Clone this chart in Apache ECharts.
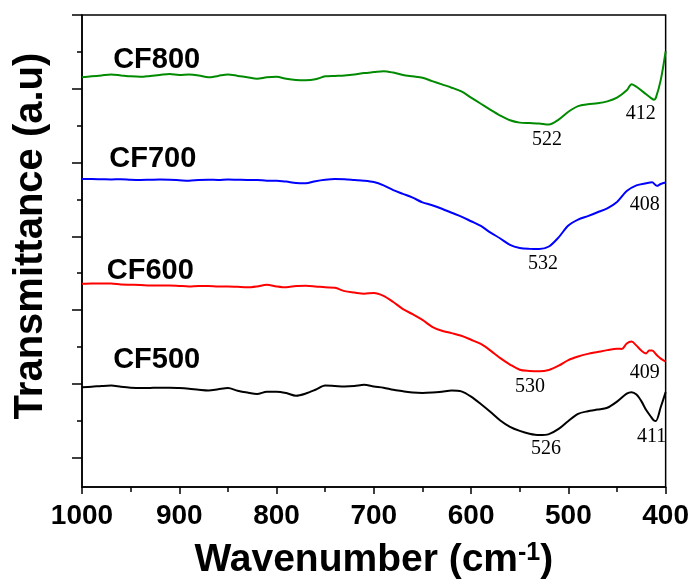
<!DOCTYPE html>
<html>
<head>
<meta charset="utf-8">
<script src="https://cdn.jsdelivr.net/npm/echarts@6/dist/echarts.min.js"></script>
<style>
  html, body { margin: 0; padding: 0; background: #fff; }
  #chart { width: 692px; height: 585px; }
</style>
</head>
<body>
<div id="chart"></div>
<script>
// ---- Data (wavenumber in cm-1, transmittance in arbitrary units, curves offset) ----
const cf800X = [1000,990,980,970,960,950,940,930,920,910,900,890,880,870,860,850,840,830,820,810,800,790,780,770,760,750,740,730,720,710,700,690,680,670,660,650,640,630,620,610,600,590,580,570,560,550,540,530,520,510,500,490,480,470,460,450,440,435,430,420,415,412,410,405,400];
const cf800Y = [86.8,87.0,87.2,87.4,87.2,87.0,86.9,87.1,87.3,87.5,87.3,87.4,87.2,86.8,87.1,87.4,87.1,86.8,86.5,86.8,86.9,86.5,86.25,86.2,86.4,87.0,87.1,87.2,87.4,87.7,87.9,88.1,87.8,87.3,87.0,86.7,86.0,85.3,84.6,83.8,82.5,81.2,79.9,78.7,77.7,77.2,77.1,77.0,76.8,77.85,79.5,80.7,81.1,81.3,81.7,82.5,84.05,85.35,84.8,83.2,82.4,82.05,82.5,86.25,92.3];

const cf700X = [1000,990,980,970,960,950,940,930,920,910,900,890,880,870,860,850,840,830,820,810,800,790,780,770,760,750,740,730,720,710,700,690,680,670,660,650,640,630,620,610,600,590,580,570,560,550,540,530,520,510,500,490,480,470,460,450,440,430,420,414,409,405,400];
const cf700Y = [65.25,65.25,65.2,65.15,65.2,65.1,65.05,65.1,65.15,65.1,65.0,64.9,65.05,65.1,65.05,65.15,65.1,65.05,65.05,64.9,64.9,64.7,64.4,64.35,64.8,65.1,65.25,65.2,65.05,64.9,64.6,63.9,62.9,62.1,61.3,60.3,59.7,58.95,58.1,57.3,56.3,55.3,53.9,52.65,51.3,50.65,50.45,50.4,50.95,52.9,55.4,56.65,57.4,58.2,59.05,60.4,62.7,63.9,64.35,64.55,63.8,64.2,64.5];

const cf600X = [1000,990,980,970,960,950,940,930,920,910,900,890,880,870,860,850,840,830,820,810,800,790,780,770,760,750,740,730,720,710,700,690,680,670,660,650,640,630,620,610,600,590,580,570,560,550,540,530,520,510,500,490,480,470,460,450,445,440,435,430,425,420,417,414,409,405,400];
const cf600Y = [43.05,43.1,43.1,43.1,42.9,42.85,42.8,42.7,42.7,42.7,42.6,42.5,42.6,42.6,42.5,42.5,42.4,42.3,42.5,42.85,42.5,42.3,42.6,42.65,42.5,42.3,42.2,41.5,41.2,40.95,41.1,40.5,39.2,37.7,36.6,35.4,33.95,33.1,32.6,32.05,31.2,30.3,28.9,27.3,25.95,24.85,24.6,24.5,24.8,25.7,26.9,27.65,28.2,28.6,29.0,29.3,29.25,30.4,30.8,29.95,28.9,28.3,28.9,28.9,27.9,27.2,26.55];

const cf500X = [1000,990,980,970,960,950,940,930,920,910,900,890,880,870,860,850,840,830,820,810,800,790,780,770,760,750,740,730,720,710,700,690,680,670,660,650,640,630,620,610,600,590,580,570,560,550,540,530,520,510,500,490,480,470,460,450,440,435,430,425,420,415,412,410,405,400];
const cf500Y = [21.15,21.25,21.4,21.5,21.25,21.05,20.95,21.0,21.05,21.05,20.95,20.8,20.6,20.45,20.7,20.95,20.4,20.0,19.7,20.2,20.2,19.9,19.35,19.8,20.6,21.5,21.4,21.3,21.4,21.65,21.3,21.05,20.6,20.3,20.0,19.9,20.0,20.2,20.45,20.25,19.15,17.6,15.9,14.1,12.75,11.9,11.3,11.0,11.2,12.3,14.0,15.5,16.05,16.4,16.8,18.1,19.8,20.1,19.6,18.2,16.3,14.85,14.1,14.0,16.95,20.1];

const seriesNames = ['CF800', 'CF700', 'CF600', 'CF500'];
const seriesColors = ['#008a00', '#0000ff', '#ff0000', '#000000'];
// name label anchors [wavenumber, transmittance]
const nameAnchors = [[968, 90.45], [972, 69.45], [974.5, 45.7], [968, 27.0]];
// peak annotations: [label, wavenumber, transmittance]
const peakLabels = [
  [['522', 522, 73.65], ['412', 425.6, 79.1]],
  [['532', 526.2, 47.2], ['408', 421.5, 59.8]],
  [['530', 539.5, 21.15], ['409', 421.5, 24.1]],
  [['526', 523.1, 8.1], ['411', 414.4, 10.65]]
];

const xTickInterval = 100;
const yMajorTicks = [6.25, 21.875, 37.5, 53.125, 68.75, 84.375, 100];
const yMinorTicks = [14.0625, 29.6875, 45.3125, 60.9375, 76.5625, 92.1875];

const xs = [cf800X, cf700X, cf600X, cf500X];
const ys = [cf800Y, cf700Y, cf600Y, cf500Y];

const SANS = '"Liberation Sans", Arial, sans-serif';
const SERIF = '"Liberation Serif", "Times New Roman", serif';

const series = seriesNames.map((name, i) => ({
  name: name,
  type: 'line',
  data: xs[i].map((x, k) => [x, ys[i][k]]),
  showSymbol: false,
  smooth: 0.3,
  lineStyle: { color: seriesColors[i], width: 2 },
  itemStyle: { color: seriesColors[i] },
  z: 3,
  markPoint: {
    symbol: 'circle',
    symbolSize: 1,
    silent: true,
    itemStyle: { color: 'rgba(0,0,0,0)' },
    data: [
      {
        coord: nameAnchors[i],
        name: name,
        label: {
          show: true, position: 'inside', formatter: name, align: 'left',
          fontFamily: SANS, fontWeight: 'bold', fontSize: 29, color: '#000'
        }
      }
    ].concat(peakLabels[i].map(p => ({
      coord: [p[1], p[2]],
      name: p[0],
      label: {
        show: true, position: 'inside', formatter: p[0], align: 'center',
        fontFamily: SERIF, fontSize: 20, color: '#000'
      }
    })))
  }
}));

const chart = echarts.init(document.getElementById('chart'), null, { renderer: 'canvas' });
chart.setOption({
  animation: false,
  backgroundColor: '#fff',
  grid: {
    left: 82, right: 25, top: 15, bottom: 94,
    show: true, borderColor: '#000', borderWidth: 1.5, backgroundColor: 'transparent'
  },
  xAxis: {
    type: 'value',
    inverse: true,
    min: 400, max: 1000, interval: xTickInterval,
    axisLine: { show: true, onZero: false, lineStyle: { color: '#000', width: 1.5 } },
    axisTick: { show: true, inside: false, length: 7, lineStyle: { color: '#000', width: 1.5 } },
    minorTick: { show: true, splitNumber: 2, length: 5, lineStyle: { color: '#000', width: 1.5 } },
    splitLine: { show: false },
    axisLabel: {
      show: true, margin: 15, color: '#000', fontFamily: SANS, fontWeight: 'bold', fontSize: 28,
      showMinLabel: true, showMaxLabel: true, hideOverlap: false,
      formatter: v => String(v)
    },
    name: 'Wavenumber (cm{sup|-1})',
    nameLocation: 'middle',
    nameGap: 54,
    nameTextStyle: {
      color: '#000', fontFamily: SANS, fontWeight: 'bold', fontSize: 39,
      rich: {
        sup: { fontFamily: SANS, fontWeight: 'bold', fontSize: 25, verticalAlign: 'top', lineHeight: 16, color: '#000' }
      }
    }
  },
  yAxis: [
    {
      type: 'value', min: 0, max: 100, position: 'left',
      axisLine: { show: true, onZero: false, lineStyle: { color: '#000', width: 1.5 } },
      axisTick: { show: true, inside: false, length: 10, customValues: yMajorTicks, lineStyle: { color: '#000', width: 1.5 } },
      axisLabel: { show: false },
      splitLine: { show: false },
      name: 'Transmittance (a.u)',
      nameLocation: 'middle',
      nameRotate: 90,
      nameGap: 31,
      nameTextStyle: {
        color: '#000', fontFamily: SANS, fontWeight: 'bold', fontSize: 40,
        padding: [0, 0, 0, 30]
      }
    },
    {
      type: 'value', min: 0, max: 100, position: 'left', offset: 0,
      axisLine: { show: false },
      axisTick: { show: true, inside: false, length: 5, customValues: yMinorTicks, lineStyle: { color: '#000', width: 1.5 } },
      axisLabel: { show: false },
      splitLine: { show: false }
    }
  ],
  series: series
});
</script>
</body>
</html>
